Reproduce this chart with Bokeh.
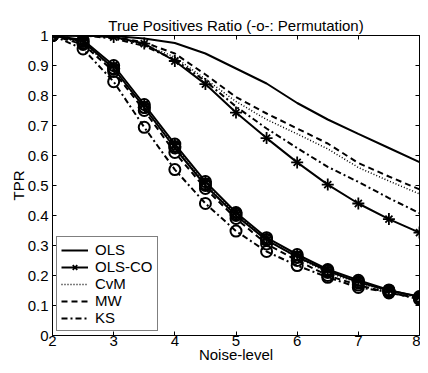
from bokeh.plotting import figure
from bokeh.models import Range1d, LinearAxis, FixedTicker, Legend, LegendItem
from bokeh.embed import file_html
from bokeh.resources import INLINE

# ---- data ----
noise = [2.0, 2.5, 3.0, 3.5, 4.0, 4.5, 5.0, 5.5, 6.0, 6.5, 7.0, 7.5, 8.0]

tpr_ols    = [1.0, 1.0, 0.998, 0.99, 0.975, 0.94, 0.89, 0.84, 0.775, 0.72, 0.672, 0.625, 0.578]
tpr_olsco  = [1.0, 1.0, 0.995, 0.973, 0.915, 0.838, 0.743, 0.658, 0.577, 0.503, 0.44, 0.388, 0.343]
tpr_cvm    = [1.0, 1.0, 0.993, 0.97, 0.928, 0.855, 0.78, 0.72, 0.672, 0.622, 0.56, 0.515, 0.472]
tpr_mw     = [1.0, 1.0, 0.996, 0.977, 0.94, 0.87, 0.795, 0.74, 0.69, 0.64, 0.575, 0.53, 0.487]
tpr_ks     = [1.0, 1.0, 0.99, 0.965, 0.92, 0.848, 0.763, 0.69, 0.625, 0.562, 0.512, 0.458, 0.408]

tpr_ols_p   = [1.0, 0.98, 0.89, 0.76, 0.625, 0.5, 0.4, 0.318, 0.262, 0.215, 0.178, 0.15, 0.13]
tpr_olsco_p = [1.0, 0.985, 0.9, 0.77, 0.638, 0.513, 0.41, 0.326, 0.27, 0.22, 0.184, 0.152, 0.128]
tpr_cvm_p   = [1.0, 0.975, 0.888, 0.76, 0.63, 0.505, 0.405, 0.32, 0.26, 0.21, 0.175, 0.147, 0.125]
tpr_mw_p    = [1.0, 0.97, 0.88, 0.75, 0.61, 0.49, 0.39, 0.305, 0.25, 0.2, 0.168, 0.142, 0.124]
tpr_ks_p    = [1.0, 0.955, 0.846, 0.694, 0.553, 0.44, 0.348, 0.28, 0.233, 0.194, 0.16, 0.145, 0.12]

x_ticks = [2, 3, 4, 5, 6, 7, 8]
y_ticks = [0, 0.1, 0.2, 0.3, 0.4, 0.5, 0.6, 0.7, 0.8, 0.9, 1]
y_tick_labels = ["0", "0.1", "0.2", "0.3", "0.4", "0.5", "0.6", "0.7", "0.8", "0.9", "1"]

FONT = "Liberation Sans"

p = figure(width=420, height=365, output_backend="svg", toolbar_location=None,
           x_range=Range1d(2, 8), y_range=Range1d(0, 1),
           x_axis_label="Noise-level", y_axis_label="TPR",
           min_border_left=52, min_border_right=1, min_border_top=35, min_border_bottom=30)
p.title.text = "True Positives Ratio (-o-: Permutation)"
p.title.align = "center"
p.title.text_font = FONT
p.title.text_font_style = "normal"
p.title.text_font_size = "15px"
p.title.text_color = "black"
p.title.standoff = 4
p.grid.visible = False
p.outline_line_color = "black"
p.outline_line_width = 1
p.background_fill_color = "white"
p.border_fill_color = "white"

def style_axis(ax, ticks, show_labels=True):
    ax.ticker = FixedTicker(ticks=ticks)
    ax.major_tick_in = 4
    ax.major_tick_out = 0
    ax.minor_tick_line_color = None
    ax.axis_line_color = "black"
    ax.major_tick_line_color = "black"
    ax.major_label_text_font = FONT
    ax.major_label_text_font_size = "15px"
    ax.major_label_text_color = "black"
    ax.major_label_standoff = 4
    ax.axis_label_text_font = FONT
    ax.axis_label_text_font_size = "15px"
    ax.axis_label_text_font_style = "normal"
    ax.axis_label_text_color = "black"
    ax.axis_label_standoff = 2
    if not show_labels:
        ax.major_label_overrides = {t: "" for t in ticks}
        ax.major_label_standoff = 0

style_axis(p.xaxis[0], x_ticks)
p.xaxis[0].major_label_standoff = 0
p.xaxis[0].axis_label_standoff = -3
style_axis(p.yaxis[0], y_ticks)
p.yaxis[0].axis_label_standoff = -2
p.yaxis[0].major_label_overrides = {t: l for t, l in zip(y_ticks, y_tick_labels)}

top = LinearAxis()
style_axis(top, x_ticks, show_labels=False)
p.add_layout(top, "above")
right = LinearAxis()
style_axis(right, y_ticks, show_labels=False)
p.add_layout(right, "right")

LW = 2
MS = 11

def stars(xs, ys):
    p.scatter(xs, ys, marker="cross", size=MS + 1, line_color="black", line_width=1.8)
    return p.scatter(xs, ys, marker="x", size=MS - 1, line_color="black", line_width=1.8)

def circles(xs, ys):
    return p.scatter(xs, ys, marker="circle", size=MS, fill_color=None, line_color="black", line_width=2)

# permutation group (with circle markers)
p.line(noise, tpr_ks_p, line_color="black", line_width=LW, line_dash="6 3 2 3")
circles(noise, tpr_ks_p)
p.line(noise, tpr_mw_p, line_color="black", line_width=LW, line_dash="6 4")
circles(noise, tpr_mw_p)
p.line(noise, tpr_cvm_p, line_color="black", line_width=1.5, line_dash="1 2")
circles(noise, tpr_cvm_p)
p.line(noise, tpr_ols_p, line_color="black", line_width=LW)
circles(noise, tpr_ols_p)
p.line(noise, tpr_olsco_p, line_color="black", line_width=LW)
circles(noise, tpr_olsco_p)
stars(noise, tpr_olsco_p)

# plain group
r_ols = p.line(noise, tpr_ols, line_color="black", line_width=LW)
r_olsco = p.line(noise, tpr_olsco, line_color="black", line_width=LW)
r_olsco_m = stars(noise, tpr_olsco)
r_cvm = p.line(noise, tpr_cvm, line_color="black", line_width=1.5, line_dash="1 2")
r_mw = p.line(noise, tpr_mw, line_color="black", line_width=LW, line_dash="6 4")
r_ks = p.line(noise, tpr_ks, line_color="black", line_width=LW, line_dash="6 3 2 3")

legend = Legend(items=[
    LegendItem(label="OLS", renderers=[r_ols]),
    LegendItem(label="OLS-CO", renderers=[r_olsco, r_olsco_m]),
    LegendItem(label="CvM", renderers=[r_cvm]),
    LegendItem(label="MW", renderers=[r_mw]),
    LegendItem(label="KS", renderers=[r_ks]),
], location="bottom_left")
legend.margin = 4
legend.padding = 4
legend.spacing = 0
legend.glyph_width = 27
legend.glyph_height = 16
legend.label_height = 16
legend.label_standoff = 7
legend.label_text_font = FONT
legend.label_text_font_size = "15px"
legend.label_text_color = "black"
legend.border_line_color = "black"
legend.border_line_width = 1
legend.background_fill_alpha = 1
p.add_layout(legend, "center")

open("out.html", "w").write(file_html(p, INLINE))
